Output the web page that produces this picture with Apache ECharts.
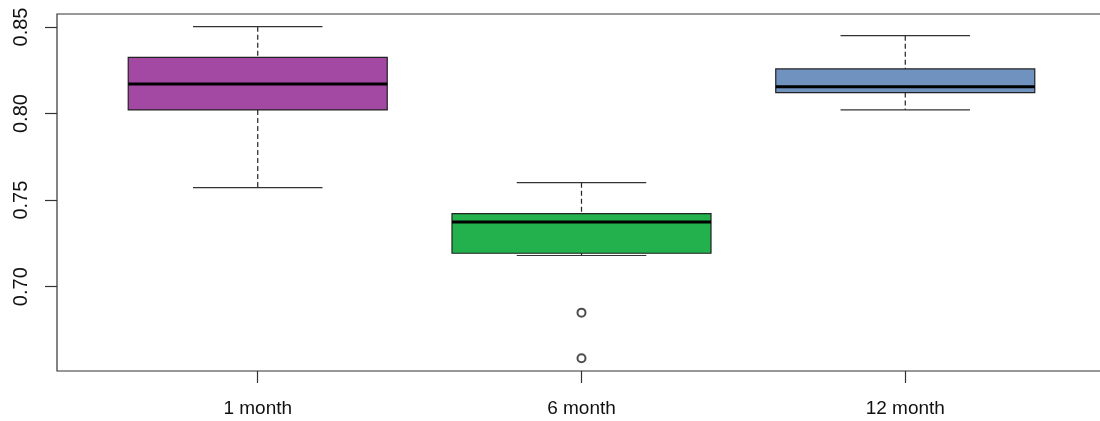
<!DOCTYPE html>
<html lang="en">
	<head>
		<meta charset="UTF-8">
		<title>boxplot</title>
		<style>
			html, body { margin: 0; padding: 0; background: #fff; overflow: hidden; }
		</style>
	</head>
	<body>
		<!-- plot frame runs a few px past the right edge, as in the original -->
		<div id="chart" style="width:1106px; height:421px"></div>
		<script src="https://cdn.jsdelivr.net/npm/echarts@6/dist/echarts.min.js"></script>
		<script>
			// box statistics
			var categories = ['1 month', '6 month', '12 month'];
			var lowWhisker = [0.7572, 0.7180, 0.8021];
			var q1 = [0.8021, 0.7193, 0.8121];
			var median = [0.8171, 0.7374, 0.8155];
			var q3 = [0.8325, 0.7422, 0.8258];
			var highWhisker = [0.8502, 0.7601, 0.8450];
			var boxColors = ['#A349A4', '#22B14C', '#7092BE'];
			// outliers: [category index (1-based), value]
			var outliers = [[2, 0.6850], [2, 0.6587]];
			var yTicks = [0.70, 0.75, 0.80, 0.85];

			var boxData = categories.map(function (c, i) {
				return [i + 1, lowWhisker[i], q1[i], median[i], q3[i], highWhisker[i]];
			});

			var chart = echarts.init(document.getElementById('chart'));

			function renderBox(params, api) {
				var x = api.value(0);
				var idx = params.dataIndex;
				var pMin = api.coord([x, api.value(1)]);
				var pQ1 = api.coord([x, api.value(2)]);
				var pMed = api.coord([x, api.value(3)]);
				var pQ3 = api.coord([x, api.value(4)]);
				var pMax = api.coord([x, api.value(5)]);
				var halfBox = api.size([0.4, 0])[0];
				var halfCap = api.size([0.2, 0])[0];
				var line = { stroke: '#333', lineWidth: 1.2 };
				var dashed = { stroke: '#222', lineWidth: 1.2, lineDash: [5, 3] };
				return {
					type: 'group',
					children: [
						{ type: 'line', shape: { x1: pMax[0], y1: pMax[1], x2: pQ3[0], y2: pQ3[1] }, style: dashed },
						{ type: 'line', shape: { x1: pQ1[0], y1: pQ1[1], x2: pMin[0], y2: pMin[1] }, style: dashed },
						{ type: 'line', shape: { x1: pMax[0] - halfCap, y1: pMax[1], x2: pMax[0] + halfCap, y2: pMax[1] }, style: line },
						{ type: 'line', shape: { x1: pMin[0] - halfCap, y1: pMin[1], x2: pMin[0] + halfCap, y2: pMin[1] }, style: line },
						{
							type: 'rect',
							shape: { x: pQ3[0] - halfBox, y: pQ3[1], width: halfBox * 2, height: pQ1[1] - pQ3[1] },
							style: { fill: boxColors[idx], stroke: '#222', lineWidth: 1.2 }
						},
						{ type: 'line', shape: { x1: pMed[0] - halfBox, y1: pMed[1], x2: pMed[0] + halfBox, y2: pMed[1] }, style: { stroke: '#000', lineWidth: 3 } }
					]
				};
			}

			var option = {
				animation: false,
				grid: {
					left: 57,
					right: 0,
					top: 14,
					bottom: 50,
					show: true,
					borderColor: '#333',
					borderWidth: 1.2
				},
				xAxis: {
					type: 'value',
					min: 0.38,
					max: 3.62,
					splitLine: { show: false },
					axisLine: { show: false },
					axisTick: { show: true, length: 12, customValues: [1, 2, 3], lineStyle: { color: '#333', width: 1.2 } },
					axisLabel: {
						customValues: [1, 2, 3],
						margin: 28,
						fontSize: 19,
						fontFamily: 'Liberation Sans, Arial, sans-serif',
						color: '#111',
						formatter: function (v) { return categories[Math.round(v) - 1]; }
					}
				},
				yAxis: {
					type: 'value',
					min: 0.6513,
					max: 0.8575,
					splitLine: { show: false },
					axisLine: { show: false },
					axisTick: { show: true, length: 12, customValues: yTicks, lineStyle: { color: '#333', width: 1.2 } },
					axisLabel: {
						customValues: yTicks,
						rotate: 90,
						margin: 26,
						fontSize: 20,
						fontFamily: 'Liberation Sans, Arial, sans-serif',
						color: '#111',
						formatter: function (v) { return v.toFixed(2); }
					}
				},
				series: [
					{
						type: 'custom',
						renderItem: renderBox,
						encode: { x: 0, y: [1, 2, 3, 4, 5] },
						data: boxData
					},
					{
						type: 'scatter',
						symbol: 'emptyCircle',
						symbolSize: 8,
						itemStyle: { color: '#222', borderColor: '#222', borderWidth: 1.2 },
						data: outliers
					}
				]
			};
			chart.setOption(option);
		</script>
	</body>
</html>
